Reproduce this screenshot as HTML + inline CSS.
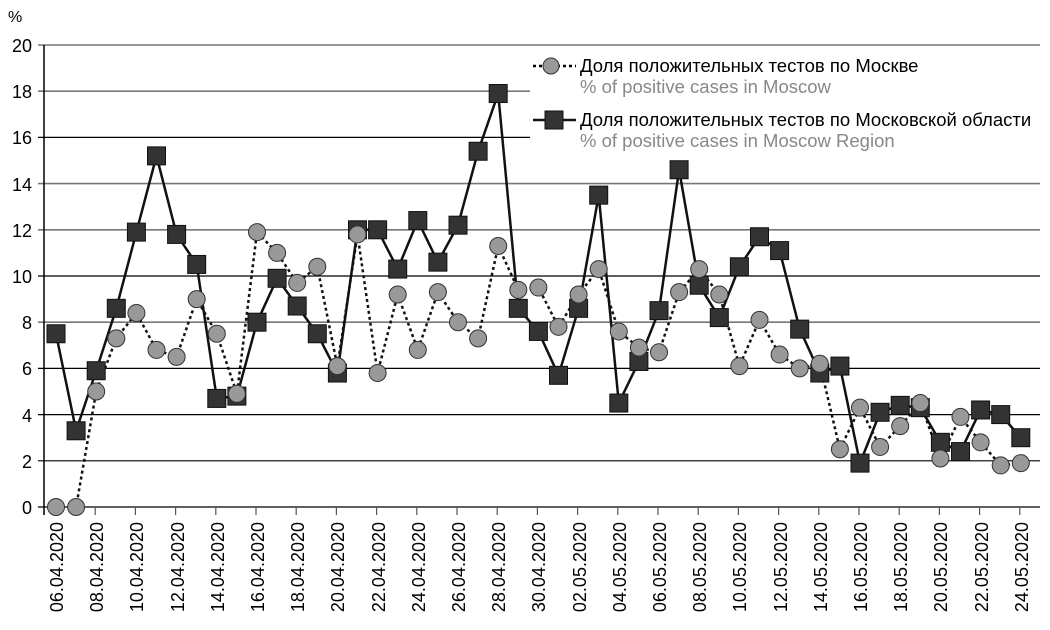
<!DOCTYPE html>
<html><head><meta charset="utf-8">
<style>
body{margin:0;background:#fff;}
svg{display:block;font-family:"Liberation Sans",Arial,sans-serif;}
</style></head>
<body>
<svg id="c" width="1050" height="630" viewBox="0 0 1050 630" xmlns="http://www.w3.org/2000/svg">
<g id="grid"></g>
<line x1="44" y1="45" x2="44" y2="515" stroke="#000" stroke-width="1.5"/>
<line x1="38" y1="507" x2="1040" y2="507" stroke="#000" stroke-width="1.2"/>
<g font-size="18" text-anchor="end" fill="#000">
<text x="32" y="514">0</text><text x="32" y="468">2</text><text x="32" y="422">4</text><text x="32" y="375">6</text><text x="32" y="329">8</text>
<text x="32" y="283">10</text><text x="32" y="237">12</text><text x="32" y="191">14</text><text x="32" y="144">16</text><text x="32" y="98">18</text><text x="32" y="52">20</text>
</g>
<text x="8" y="22" font-size="16">%</text>
<g id="ticks"></g>
<g font-size="18" text-anchor="end">
<text transform="translate(63,522) rotate(-90)">06.04.2020</text>
<text transform="translate(103,522) rotate(-90)">08.04.2020</text>
<text transform="translate(143,522) rotate(-90)">10.04.2020</text>
<text transform="translate(184,522) rotate(-90)">12.04.2020</text>
<text transform="translate(224,522) rotate(-90)">14.04.2020</text>
<text transform="translate(264,522) rotate(-90)">16.04.2020</text>
<text transform="translate(304,522) rotate(-90)">18.04.2020</text>
<text transform="translate(344,522) rotate(-90)">20.04.2020</text>
<text transform="translate(385,522) rotate(-90)">22.04.2020</text>
<text transform="translate(425,522) rotate(-90)">24.04.2020</text>
<text transform="translate(465,522) rotate(-90)">26.04.2020</text>
<text transform="translate(505,522) rotate(-90)">28.04.2020</text>
<text transform="translate(545,522) rotate(-90)">30.04.2020</text>
<text transform="translate(586,522) rotate(-90)">02.05.2020</text>
<text transform="translate(626,522) rotate(-90)">04.05.2020</text>
<text transform="translate(666,522) rotate(-90)">06.05.2020</text>
<text transform="translate(706,522) rotate(-90)">08.05.2020</text>
<text transform="translate(746,522) rotate(-90)">10.05.2020</text>
<text transform="translate(787,522) rotate(-90)">12.05.2020</text>
<text transform="translate(827,522) rotate(-90)">14.05.2020</text>
<text transform="translate(867,522) rotate(-90)">16.05.2020</text>
<text transform="translate(907,522) rotate(-90)">18.05.2020</text>
<text transform="translate(947,522) rotate(-90)">20.05.2020</text>
<text transform="translate(988,522) rotate(-90)">22.05.2020</text>
<text transform="translate(1028,522) rotate(-90)">24.05.2020</text>
</g>
<g id="series"></g>
<rect x="530" y="50" width="512" height="100" fill="#fff"/>
<line x1="533" y1="66" x2="576" y2="66" stroke="#000" stroke-width="2.5" stroke-dasharray="3,3"/>
<circle cx="551" cy="66" r="8" fill="#999" stroke="#333" stroke-width="1"/>
<line x1="533" y1="120" x2="576" y2="120" stroke="#111" stroke-width="2.5"/>
<rect x="545" y="111" width="18" height="18" fill="#333" stroke="#111"/>
<text x="580" y="72" font-size="18.5" fill="#000">Доля положительных тестов по Москве</text>
<text x="580" y="93" font-size="18.5" fill="#888">% of positive cases in Moscow</text>
<text x="580" y="126" font-size="18.5" fill="#000">Доля положительных тестов по Московской области</text>
<text x="580" y="147" font-size="18.5" fill="#888">% of positive cases in Moscow Region</text>
</svg>
<script>
var NS="http://www.w3.org/2000/svg";
function el(t,a,p){var e=document.createElementNS(NS,t);for(var k in a)e.setAttribute(k,a[k]);p.appendChild(e);return e;}
var g=document.getElementById('grid');
var cols={2:'#000',4:'#000',6:'#000',8:'#777',10:'#000',12:'#777',14:'#777',16:'#000',18:'#777',20:'#777'};
for(var v=2;v<=20;v+=2){var y=507-v*23.1;el('line',{x1:38,y1:y,x2:1040,y2:y,stroke:cols[v],'stroke-width':cols[v]=='#777'?1.6:1.2},g);}
var t=document.getElementById('ticks');
for(var k=1;k<25;k++){var x=55+40.2*k;el('line',{x1:x,y1:507,x2:x,y2:515,stroke:'#555','stroke-width':1.2},t);}
var R=[7.5,3.3,5.9,8.6,11.9,15.2,11.8,10.5,4.7,4.8,8.0,9.9,8.7,7.5,5.8,12.0,12.0,10.3,12.4,10.6,12.2,15.4,17.9,8.6,7.6,5.7,8.6,13.5,4.5,6.3,8.5,14.6,9.6,8.2,10.4,11.7,11.1,7.7,5.8,6.1,1.9,4.1,4.4,4.3,2.8,2.4,4.2,4.0,3.0];
var M=[0,0,5,7.3,8.4,6.8,6.5,9,7.5,4.9,11.9,11,9.7,10.4,6.1,11.8,5.8,9.2,6.8,9.3,8,7.3,11.3,9.4,9.5,7.8,9.2,10.3,7.6,6.9,6.7,9.3,10.3,9.2,6.1,8.1,6.6,6.0,6.2,2.5,4.3,2.6,3.5,4.5,2.1,3.9,2.8,1.8,1.9];
var s=document.getElementById('series');
function X(i){return 56+20.1*i;}
function pts(a){return a.map(function(v,i){return X(i)+','+(507-v*23.1);}).join(' ');}
el('polyline',{points:pts(R),fill:'none',stroke:'#111','stroke-width':2.5},s);
el('polyline',{points:pts(M),fill:'none',stroke:'#111','stroke-width':2.5,'stroke-dasharray':'3,3'},s);
R.forEach(function(v,i){el('rect',{x:X(i)-9,y:507-v*23.1-9,width:18,height:18,fill:'#333',stroke:'#111','stroke-width':1},s);});
M.forEach(function(v,i){el('circle',{cx:X(i),cy:507-v*23.1,r:8.5,fill:'#999',stroke:'#333','stroke-width':1},s);});
</script>
</body></html>
